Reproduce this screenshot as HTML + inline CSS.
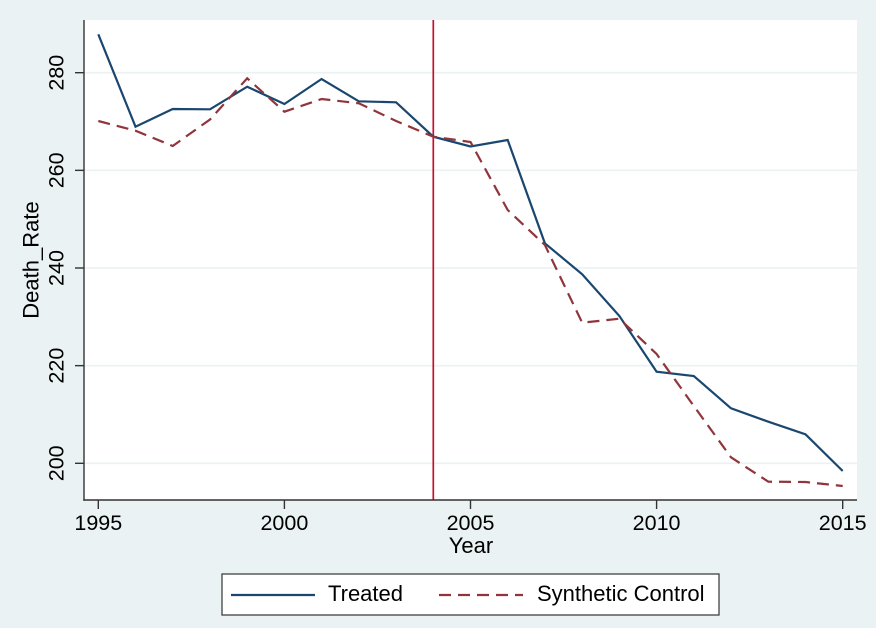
<!DOCTYPE html>
<html><head><meta charset="utf-8"><style>
html,body{margin:0;padding:0;background:#EAF2F3;}
svg{display:block;}
text{font-family:"Liberation Sans",Arial,sans-serif;fill:#000;}
</style></head><body>
<svg width="876" height="628" viewBox="0 0 876 628" xmlns="http://www.w3.org/2000/svg">
<rect x="0" y="0" width="876" height="628" fill="#EAF2F3"/>
<rect x="84" y="20" width="773" height="480" fill="#FFFFFF"/>
<g stroke="#EAF2F3" stroke-width="1.6">
<line x1="84" x2="857" y1="463.3" y2="463.3"/>
<line x1="84" x2="857" y1="365.65" y2="365.65"/>
<line x1="84" x2="857" y1="268" y2="268"/>
<line x1="84" x2="857" y1="170.35" y2="170.35"/>
<line x1="84" x2="857" y1="72.7" y2="72.7"/>
</g>
<line x1="433.3" x2="433.3" y1="20" y2="500" stroke="#C8102E" stroke-width="1.7"/>
<polyline fill="none" stroke="#1A476F" stroke-width="2.2" stroke-linejoin="miter" points="98.3,34.3 135.5,126.7 172.7,109 210,109.3 247.2,86.7 284.4,104 321.6,79 358.8,101.3 396.1,102.3 433.3,136.7 470.5,146.5 507.7,140 544.9,243.3 582.2,274.3 619.4,316 656.6,371.7 693.8,376 731,408.3 768.3,421.7 805.5,434.3 842.7,471"/>
<polyline fill="none" stroke="#90353B" stroke-width="2.2" stroke-dasharray="12 7" points="98.3,121 135.5,130.7 172.7,146 210,119.5 247.2,78.3 284.4,111.7 321.6,99 358.8,103.3 396.1,121 433.3,136.7 470.5,142 507.7,210 544.9,245 582.2,322.7 619.4,318.7 656.6,354 693.8,406 731,457.3 768.3,481.7 805.5,482 842.7,486"/>
<g stroke="#333" stroke-width="1.4">
<line x1="84" x2="84" y1="20" y2="500.7"/>
<line x1="83.3" x2="857" y1="500" y2="500"/>
<line x1="75" x2="84" y1="463.3" y2="463.3"/>
<line x1="75" x2="84" y1="365.65" y2="365.65"/>
<line x1="75" x2="84" y1="268" y2="268"/>
<line x1="75" x2="84" y1="170.35" y2="170.35"/>
<line x1="75" x2="84" y1="72.7" y2="72.7"/>
<line x1="98.3" x2="98.3" y1="500" y2="509"/>
<line x1="284.4" x2="284.4" y1="500" y2="509"/>
<line x1="470.5" x2="470.5" y1="500" y2="509"/>
<line x1="656.6" x2="656.6" y1="500" y2="509"/>
<line x1="842.7" x2="842.7" y1="500" y2="509"/>
</g>
<g font-size="21.5" text-anchor="middle">
<text transform="translate(63.3,463.3) rotate(-90)">200</text>
<text transform="translate(63.3,365.65) rotate(-90)">220</text>
<text transform="translate(63.3,268) rotate(-90)">240</text>
<text transform="translate(63.3,170.35) rotate(-90)">260</text>
<text transform="translate(63.3,72.7) rotate(-90)">280</text>
<text x="98.3" y="530">1995</text>
<text x="284.4" y="530">2000</text>
<text x="470.5" y="530">2005</text>
<text x="656.6" y="530">2010</text>
<text x="842.7" y="530">2015</text>
</g>
<text x="471" y="553" font-size="22" text-anchor="middle">Year</text>
<text transform="translate(38.3,260) rotate(-90)" font-size="22" text-anchor="middle">Death_Rate</text>
<rect x="222" y="574" width="497" height="41" fill="#FFFFFF" stroke="#333" stroke-width="1.2"/>
<line x1="231" x2="315" y1="595" y2="595" stroke="#1A476F" stroke-width="2.2"/>
<text x="328" y="601" font-size="22">Treated</text>
<line x1="439" x2="523" y1="595" y2="595" stroke="#90353B" stroke-width="2.2" stroke-dasharray="12 7"/>
<text x="537" y="601" font-size="22">Synthetic Control</text>
</svg>
</body></html>
